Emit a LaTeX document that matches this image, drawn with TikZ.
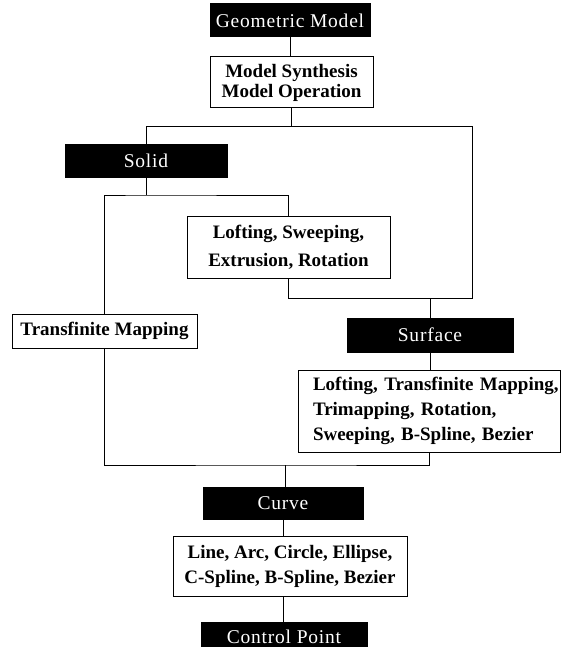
\documentclass[tikz,border=0pt]{standalone}
\usepackage{fontspec}
\setmainfont{Liberation Serif}
\newfontfamily\widefont[LetterSpace=4]{Liberation Serif}
\begin{document}
\begin{tikzpicture}[x=1pt,y=-1pt,
  blackbox/.style={fill=black,draw=black,text=white,line width=1pt,inner sep=0pt,
    font=\widefont\fontsize{19.5}{22}\selectfont},
  whitebox/.style={draw=black,fill=white,line width=1pt,inner sep=0pt,align=center,
    font=\bfseries\fontsize{19}{20}\selectfont},
  conn/.style={line width=1pt}]
\useasboundingbox (0,0) rectangle (567,647);
% nodes
\node[blackbox,minimum width=160pt,minimum height=33pt] (gm) at (290,20.5) {Geometric Model};
\node[whitebox,minimum width=163pt,minimum height=51pt] (ms) at (291.5,82.5) {Model Synthesis\\Model Operation};
\node[blackbox,minimum width=162pt,minimum height=32pt] (solid) at (146,161) {Solid};
\node[whitebox,minimum width=203pt,minimum height=62pt,font=\bfseries\fontsize{19}{28}\selectfont] (loft) at (288.5,247) {Lofting, Sweeping,\\Extrusion, Rotation};
\node[whitebox,minimum width=185pt,minimum height=34pt] (tm) at (104.5,331) {Transfinite Mapping};
\node[blackbox,minimum width=166pt,minimum height=34pt] (surf) at (430,335) {Surface};
\node[whitebox,text width=232pt,inner xsep=15pt,align=left,minimum height=82pt,font=\bfseries\fontsize{19}{25}\selectfont] (slist) at (429,411) {\mbox{Lofting, Transfinite Mapping,}\\\mbox{Trimapping, Rotation,}\\\mbox{Sweeping, B-Spline, Bezier}};
\node[blackbox,minimum width=160pt,minimum height=32pt] (curve) at (283,503) {Curve};
\node[whitebox,minimum width=234pt,minimum height=60pt,font=\bfseries\fontsize{19}{25}\selectfont] (llist) at (290,566) {Line, Arc, Circle, Ellipse,\\C-Spline, B-Spline, Bezier};
\node[blackbox,minimum width=166pt,minimum height=30pt] (cp) at (284,637) {Control Point};
% junction coordinates
\coordinate (j1) at (290,127);
\coordinate (tr) at (472,127);
\coordinate (br) at (472,298);
\coordinate (sj) at (146,195);
\coordinate (cj) at (285,465);
% connectors
\draw[conn] (gm.south) -- (gm.south |- ms.north);
\draw[conn] (ms.south) -- (ms.south |- j1);
\draw[conn] (solid.north) |- (tr) -- (br) -| (loft.south);
\draw[conn] (surf.north) -- (surf.north |- br);
\draw[conn] (solid.south) -- (sj);
\draw[conn] (tm.north) |- (sj) -| (loft.north);
\draw[conn] (tm.south) |- (cj) -| (slist.south);
\draw[conn] (cj) -- (cj |- curve.north);
\draw[conn] (surf.south) -- (surf.south |- slist.north);
\draw[conn] (curve.south) -- (curve.south |- llist.north);
\draw[conn] (curve.south |- llist.south) -- (curve.south |- cp.north);
\end{tikzpicture}
\end{document}
